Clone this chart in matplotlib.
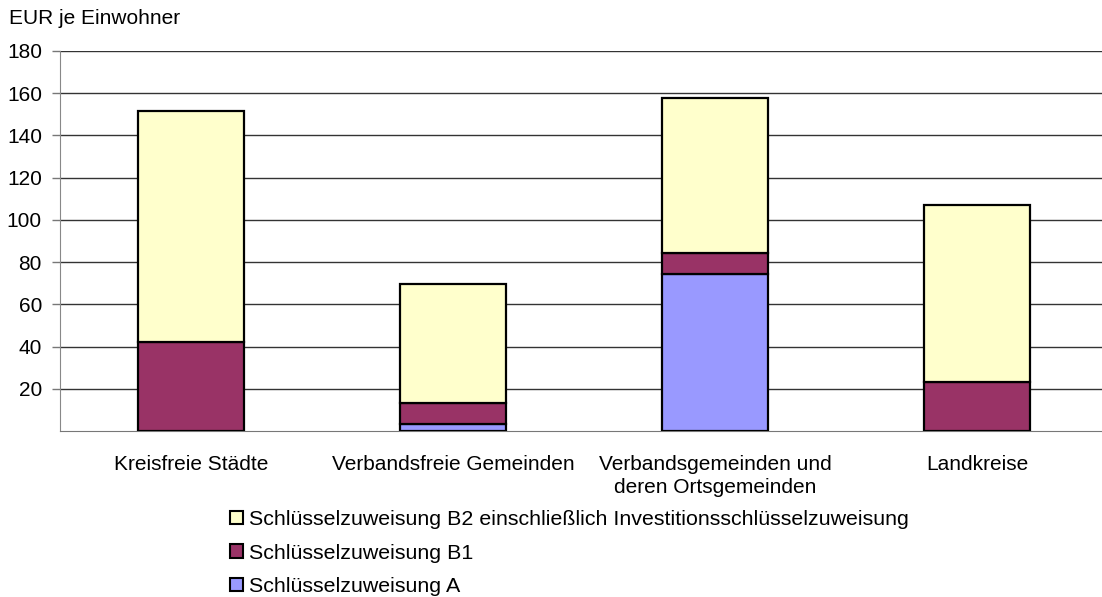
import matplotlib.pyplot as plt
from matplotlib.patches import Patch

plt.rcParams['font.family'] = ['Liberation Sans', 'DejaVu Sans']

categories = ['Kreisfreie Städte', 'Verbandsfreie Gemeinden',
              'Verbandsgemeinden und\nderen Ortsgemeinden', 'Landkreise']
zuweisung_a = [0.0, 3.5, 74.4, 0.0]
zuweisung_b1 = [42.2, 9.9, 9.8, 23.1]
zuweisung_b2 = [109.4, 56.2, 73.4, 84.0]

labels = ['Schlüsselzuweisung B2 einschließlich Investitionsschlüsselzuweisung',
          'Schlüsselzuweisung B1',
          'Schlüsselzuweisung A']
colors = ['#FFFFCC', '#993366', '#9999FF']

fs = 15

fig = plt.figure(figsize=(11.02, 5.97), dpi=100)
ax = fig.add_axes([60 / 1102, 166 / 597, 1048 / 1102, 380 / 597])

x = range(len(categories))
bottom_b1 = zuweisung_a
bottom_b2 = [a + b for a, b in zip(zuweisung_a, zuweisung_b1)]
kw = dict(width=0.405, edgecolor='black', linewidth=1.6, zorder=3)
ax.bar(x, zuweisung_a, color=colors[2], **kw)
ax.bar(x, zuweisung_b1, bottom=bottom_b1, color=colors[1], **kw)
ax.bar(x, zuweisung_b2, bottom=bottom_b2, color=colors[0], **kw)

ax.set_xlim(-0.5, 3.5)
ax.set_ylim(0, 180)
ax.set_yticks(range(20, 181, 20))
ax.yaxis.grid(True, color='#333333', linewidth=1.0)
ax.set_axisbelow(True)
ax.tick_params(axis='y', length=6, width=1, color='#777777', labelsize=fs, pad=7)
ax.tick_params(axis='x', length=0, labelsize=fs, pad=17)
ax.set_xticks(list(x))
ax.set_xticklabels(categories, linespacing=1.3)
for s in ['top', 'right']:
    ax.spines[s].set_visible(False)
ax.spines['left'].set_color('#888888')
ax.spines['bottom'].set_color('#777777')

fig.text(9 / 1102, 1 - 19 / 597, 'EUR je Einwohner', fontsize=fs, va='center', ha='left')

handles = [Patch(facecolor=c, edgecolor='black', linewidth=1.5) for c in colors]
fig.legend(handles, labels, loc='upper left', bbox_to_anchor=(230 / 1102, 1 - 510 / 597),
           frameon=False, fontsize=15.4, handlelength=0.6, handleheight=0.6,
           handletextpad=0.3, labelspacing=0.68, borderpad=0, borderaxespad=0)

fig.savefig('out.png', dpi=100)
